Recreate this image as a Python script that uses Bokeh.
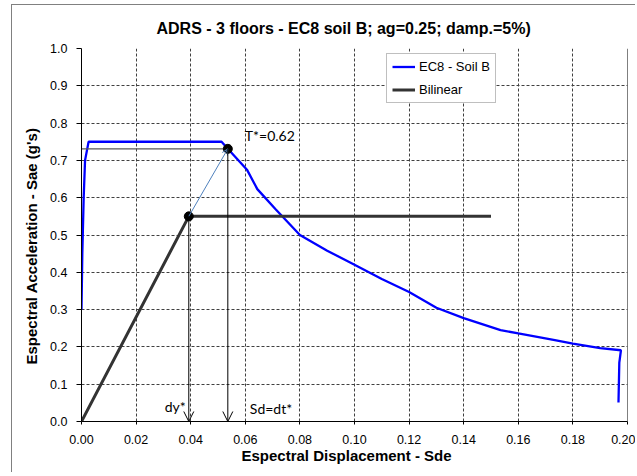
from bokeh.plotting import figure
from bokeh.models import Range1d, Span, Arrow, OpenHead, Label, Title, FixedTicker, PrintfTickFormatter
from bokeh.embed import file_html
from bokeh.resources import INLINE

# ---- data ----
sd_ec8 = [0.0, 0.0003, 0.0008, 0.0013, 0.0026, 0.0513, 0.0536, 0.0607, 0.0644, 0.0711,
          0.080, 0.090, 0.100, 0.110, 0.120, 0.130, 0.140, 0.1535, 0.160, 0.1729,
          0.180, 0.190, 0.1976, 0.1970, 0.1967]
sa_ec8 = [0.30, 0.45, 0.60, 0.70, 0.75, 0.75, 0.731, 0.674, 0.623, 0.569,
          0.500, 0.458, 0.420, 0.382, 0.347, 0.305, 0.277, 0.245, 0.236, 0.219,
          0.209, 0.197, 0.191, 0.158, 0.051]
sd_bil = [0.0, 0.0393, 0.150]
sa_bil = [0.0, 0.55, 0.55]
dy_star = 0.0393
sa_yield = 0.55
dt_star = 0.0536
sa_target = 0.731
t_star_label = "T*=0.62"
x_ticks = [0.00, 0.02, 0.04, 0.06, 0.08, 0.10, 0.12, 0.14, 0.16, 0.18, 0.20]
y_ticks = [0.0, 0.1, 0.2, 0.3, 0.4, 0.5, 0.6, 0.7, 0.8, 0.9, 1.0]
x_min, x_max = 0.0, 0.2
y_min, y_max = 0.0, 1.0

FONT = "Liberation Sans"

p = figure(width=624, height=468, x_range=Range1d(x_min, x_max), y_range=Range1d(y_min, y_max),
           output_backend="svg", toolbar_location=None,
           min_border_left=69, min_border_right=9, min_border_top=43, min_border_bottom=52,
           title="ADRS - 3 floors - EC8 soil B; ag=0.25; damp.=5%)")
p.styles = {"border-left": "1px solid #808080", "border-top": "1px solid #808080",
            "margin-left": "11px", "margin-top": "4px"}
p.background_fill_color = "white"
p.border_fill_color = "white"
p.outline_line_color = None

p.title.text_font = FONT
p.title.text_font_size = "16px"
p.title.text_font_style = "bold"
p.title.align = "left"
p.title.offset = 75
p.title.standoff = 23
p.title.text_color = "black"

# axes
p.xaxis.ticker = FixedTicker(ticks=x_ticks)
p.yaxis.ticker = FixedTicker(ticks=y_ticks)
p.xaxis.formatter = PrintfTickFormatter(format="%.2f")
p.yaxis.formatter = PrintfTickFormatter(format="%.1f")
for ax in (p.xaxis[0], p.yaxis[0]):
    ax.axis_line_color = "black"
    ax.axis_line_width = 1
    ax.major_tick_line_color = "black"
    ax.major_tick_in = 0
    ax.minor_tick_line_color = None
    ax.major_label_text_font = FONT
    ax.major_label_text_font_size = "12.5px"
    ax.major_label_text_color = "black"
p.xaxis.major_tick_out = 3
p.yaxis.major_tick_out = 5
p.yaxis.major_label_standoff = 9
p.xaxis.major_label_standoff = 10

# axis titles as side titles (offset from the frame's left / bottom end)
p.add_layout(Title(text="Espectral Acceleration - Sae (g's)", align="left", offset=57,
                   standoff=16, vertical_align="bottom", text_font=FONT,
                   text_font_size="15px", text_font_style="bold", text_color="black"), "left")
p.add_layout(Title(text="Espectral Displacement - Sde", align="left", offset=160,
                   standoff=0, vertical_align="top", text_font=FONT,
                   text_font_size="15px", text_font_style="bold", text_color="black"), "below")

for g in (p.xgrid[0], p.ygrid[0]):
    g.grid_line_color = "#404040"
    g.grid_line_dash = "3 2"
    g.grid_line_width = 1

p.add_layout(Span(location=x_max, dimension="height", line_color="black", line_width=1))

# curves
p.line(sd_ec8, sa_ec8, line_color="#0000FF", line_width=2.3, legend_label="EC8 - Soil B")
p.line(sd_bil, sa_bil, line_color="#333333", line_width=3, legend_label="Bilinear")
p.line([x_min, dt_star], [sa_target, sa_target], line_color="#595959", line_width=1.3)

# arrows
p.add_layout(Arrow(x_start=dy_star, y_start=sa_yield, x_end=dt_star, y_end=sa_target,
                   line_color="#4F81BD", line_width=1,
                   end=OpenHead(size=6, line_color="#4F81BD", line_width=1)))
p.add_layout(Arrow(x_start=dy_star, y_start=sa_yield, x_end=dy_star, y_end=y_min,
                   line_color="black", line_width=1,
                   end=OpenHead(size=10, line_color="black", line_width=1)))
p.add_layout(Arrow(x_start=dt_star, y_start=sa_target, x_end=dt_star, y_end=y_min,
                   line_color="black", line_width=1,
                   end=OpenHead(size=10, line_color="black", line_width=1)))

p.scatter([dy_star, dt_star], [sa_yield, sa_target], size=9, color="black")

# annotations
p.add_layout(Label(x=dt_star, y=sa_target, text=t_star_label, x_offset=17, y_offset=13,
                   text_font="Lato", text_font_size="14px", text_baseline="middle",
                   text_align="left", text_color="black"))
p.add_layout(Label(x=dy_star, y=y_min, text="dy*", x_offset=-3, y_offset=15,
                   text_font="Lato", text_font_size="14px", text_baseline="middle",
                   text_align="right", text_color="black"))
p.add_layout(Label(x=dt_star, y=y_min, text="Sd=dt*", x_offset=22, y_offset=13,
                   text_font="Lato", text_font_size="14px", text_baseline="middle",
                   text_align="left", text_color="black"))

# legend
lg = p.legend[0]
lg.location = (305, 318)
lg.border_line_color = "#808080"
lg.border_line_width = 1
lg.background_fill_color = "white"
lg.background_fill_alpha = 1
lg.label_text_font = FONT
lg.label_text_font_size = "13px"
lg.label_text_color = "black"
lg.glyph_width = 23
lg.glyph_height = 15
lg.label_height = 15
lg.label_standoff = 4
lg.padding = 5
lg.spacing = 8
lg.margin = 0

open("out.html", "w").write(file_html(p, INLINE))
